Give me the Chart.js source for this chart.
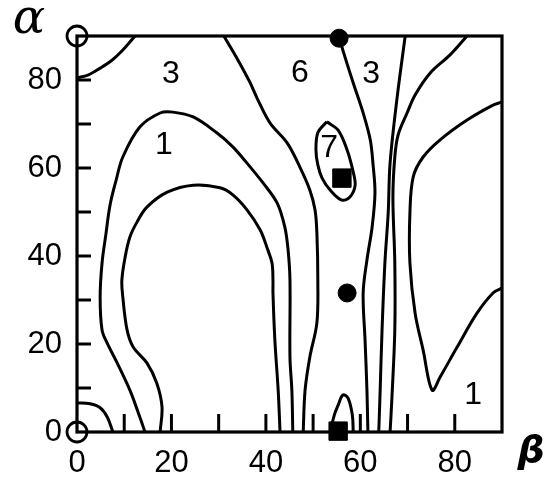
<!DOCTYPE html>
<html>
<head>
<meta charset="utf-8">
<script src="https://cdn.jsdelivr.net/npm/chart.js@4.4.1/dist/chart.umd.min.js"></script>
<style>
  body { margin: 0; background: #fff; }
</style>
</head>
<body>
<canvas id="myChart" width="557" height="484"></canvas>
<script>
// contour lines as [beta, alpha] pairs (degrees)
const cornerTop = [[0,80.5],[2.3,81.1],[4.9,82.7],[7.4,84.5],[9.5,86.6],[12.3,90]];
const cornerBottom = [[0,6.6],[2.75,6.4],[4.9,5.5],[6.4,3.4],[7.6,0]];
const outerU = [[14.4,0],[13.3,3.4],[11.2,9.5],[8.5,15.7],[6.4,20.2],[5.3,23.2],[4.9,30.7],[5.3,38.4],
  [6.1,44.8],[7.0,51.6],[8.3,57.3],[9.7,62.5],[13.3,69.3],[17.6,72.5],[20.3,72.7],[24.6,71.6],[29.6,68.0],
  [33.0,64.8],[36.0,61.1],[39.4,56.6],[42.4,52.0],[44.0,46.6],[44.7,41.4],[45.1,34.5],[45.1,17.0],[45.5,9.5],[45.7,0]];
const innerU = [[17.6,0],[18.0,5.7],[16.9,11.1],[14.8,15.7],[11.9,19.3],[10.6,23.2],[9.7,30.7],[9.5,34.5],
  [10.2,39.8],[11.2,44.3],[12.7,47.7],[14.8,51.1],[19.1,54.5],[24.6,56.1],[30.3,55.5],[33.0,53.9],[36.0,50.5],
  [38.8,45.9],[40.4,41.4],[41.3,38.4],[41.5,34.5],[41.5,31.6],[41.9,20.9],[42.6,9.5],[43.0,0]];
const lineSix = [[31.1,90],[34.1,84.5],[36.6,79.5],[38.3,75.5],[40.9,70.2],[44.5,65.7],[47.2,60.2],[49.3,55.0],
  [50.4,50.5],[50.8,45.2],[51.0,34.5],[50.8,24.8],[49.3,17.0],[48.3,9.5],[47.9,0]];
const lineB = [[55.5,90],[56.3,86.8],[58.5,79.3],[60.6,72.5],[62.1,66.4],[62.7,60.7],[63.1,54.3],[62.5,46.6],
  [61.4,39.1],[60.6,31.6],[61.0,20.9],[61.4,9.5],[61.6,0]];
const lineC = [[69.5,90],[67.8,76.1],[66.3,61.1],[65.9,49.8],[65.2,38.4],[64.6,23.2],[64.2,9.5],[63.9,0]];
const lineD = [[82.6,90],[79.0,85.7],[74.8,81.6],[71.6,76.6],[69.9,72.5],[68.0,67.5],[67.3,62.5],[66.9,53.4],
  [67.3,38.4],[67.3,23.2],[66.7,8.0],[66.3,0]];
const lineV = [[90,75],[88.1,74.3],[82.6,70.9],[76.9,66.4],[73.3,62.5],[71.2,58.0],[70.5,49.8],[70.5,38.4],
  [71.6,27.0],[73.3,18.6],[75.2,9.5],[76.9,12.5],[80.5,19.3],[84.7,27.0],[88.1,31.6],[90,32.7]];
const loopSeven = [[52.9,70.5],[51.0,68.0],[50.6,64.1],[51.0,60.7],[51.9,57.7],[53.6,55.0],[56.1,52.7],
  [57.8,53.4],[58.9,56.1],[58.4,59.5],[57.2,64.1],[55.3,68.6],[52.9,70.5]];
const loopBottom = [[53.6,0],[54.5,3.9],[55.3,6.1],[56.3,8.4],[57.4,7.7],[58.3,3.9],[58.5,0]];

// special points
const openCircles = [[0,90],[0,0]];
const filledDots = [[55.5,89.5],[57.2,31.6]];
const squares = [[56.1,57.7],[55.3,0.2]];

// contour level labels
const levelText = ['3','6','3','1','7','1'];
const levelX = [19.9,47.2,62.3,18.4,53.4,83.9];
const levelY = [81.4,81.5,81.4,65.2,64.5,8.4];

const minorSteps = [10,20,30,40,50,60,70,80];

const toXY = pts => pts.map(([x, y]) => ({x, y}));

const contours = [cornerTop, cornerBottom, outerU, innerU, lineSix, lineB, lineC, lineD, lineV, loopSeven, loopBottom];

const datasets = contours.map(c => ({
  data: toXY(c),
  showLine: true,
  pointRadius: 0,
  borderColor: '#000',
  borderWidth: 3,
  tension: 0.35,
  fill: false
}));

datasets.push({
  data: toXY(openCircles), showLine: false, pointRadius: 10, pointStyle: 'circle',
  pointBackgroundColor: 'rgba(0,0,0,0)', pointBorderColor: '#000', pointBorderWidth: 2.8, clip: false
});
datasets.push({
  data: toXY(filledDots), showLine: false, pointRadius: 9, pointStyle: 'circle',
  pointBackgroundColor: '#000', pointBorderColor: '#000', pointBorderWidth: 1, clip: false
});
datasets.push({
  data: toXY(squares), showLine: false, pointRadius: 13, pointStyle: 'rect',
  pointBackgroundColor: '#000', pointBorderColor: '#000', pointBorderWidth: 1, clip: false
});

const tickFont = {family: 'Liberation Sans', size: 31};

const framePlugin = {
  id: 'frame',
  afterDatasetsDraw(chart) {
    const {ctx, chartArea: a, scales: {x, y}} = chart;
    ctx.save();
    ctx.strokeStyle = '#000';
    ctx.lineWidth = 3.2;
    ctx.strokeRect(a.left, a.top, a.right - a.left, a.bottom - a.top);
    ctx.lineWidth = 3;
    minorSteps.forEach(v => {
      const px = x.getPixelForValue(v);
      ctx.beginPath(); ctx.moveTo(px, a.bottom); ctx.lineTo(px, a.bottom - 18); ctx.stroke();
      const py = y.getPixelForValue(v);
      ctx.beginPath(); ctx.moveTo(a.left, py); ctx.lineTo(a.left + 14, py); ctx.stroke();
    });

    ctx.fillStyle = '#000';
    ctx.textAlign = 'center';
    ctx.textBaseline = 'middle';
    ctx.font = '32px "Liberation Sans"';
    levelText.forEach((t, i) => {
      ctx.fillText(t, x.getPixelForValue(levelX[i]), y.getPixelForValue(levelY[i]));
    });

    ctx.font = 'italic 48px "DejaVu Serif"';
    ctx.fillText('α', 29, 21);
    ctx.font = 'bold italic 38px "DejaVu Sans"';
    ctx.fillText('β', 531, 452);
    ctx.restore();
  }
};

new Chart(document.getElementById('myChart'), {
  type: 'scatter',
  data: {datasets},
  options: {
    responsive: false,
    animation: false,
    layout: {padding: {top: 36, right: 55, left: 0, bottom: 0}},
    plugins: {legend: {display: false}, tooltip: {enabled: false}},
    scales: {
      x: {
        type: 'linear', min: 0, max: 90,
        afterFit: s => { s.height = 52; },
        grid: {display: false, drawTicks: false},
        border: {display: false},
        ticks: {stepSize: 20, includeBounds: false, padding: 13, color: '#000', font: tickFont, maxRotation: 0, autoSkip: false}
      },
      y: {
        type: 'linear', min: 0, max: 90,
        afterFit: s => { s.width = 77; },
        grid: {display: false, drawTicks: false},
        border: {display: false},
        ticks: {stepSize: 20, includeBounds: false, padding: 15, color: '#000', font: tickFont, autoSkip: false}
      }
    }
  },
  plugins: [framePlugin]
});
</script>
</body>
</html>
